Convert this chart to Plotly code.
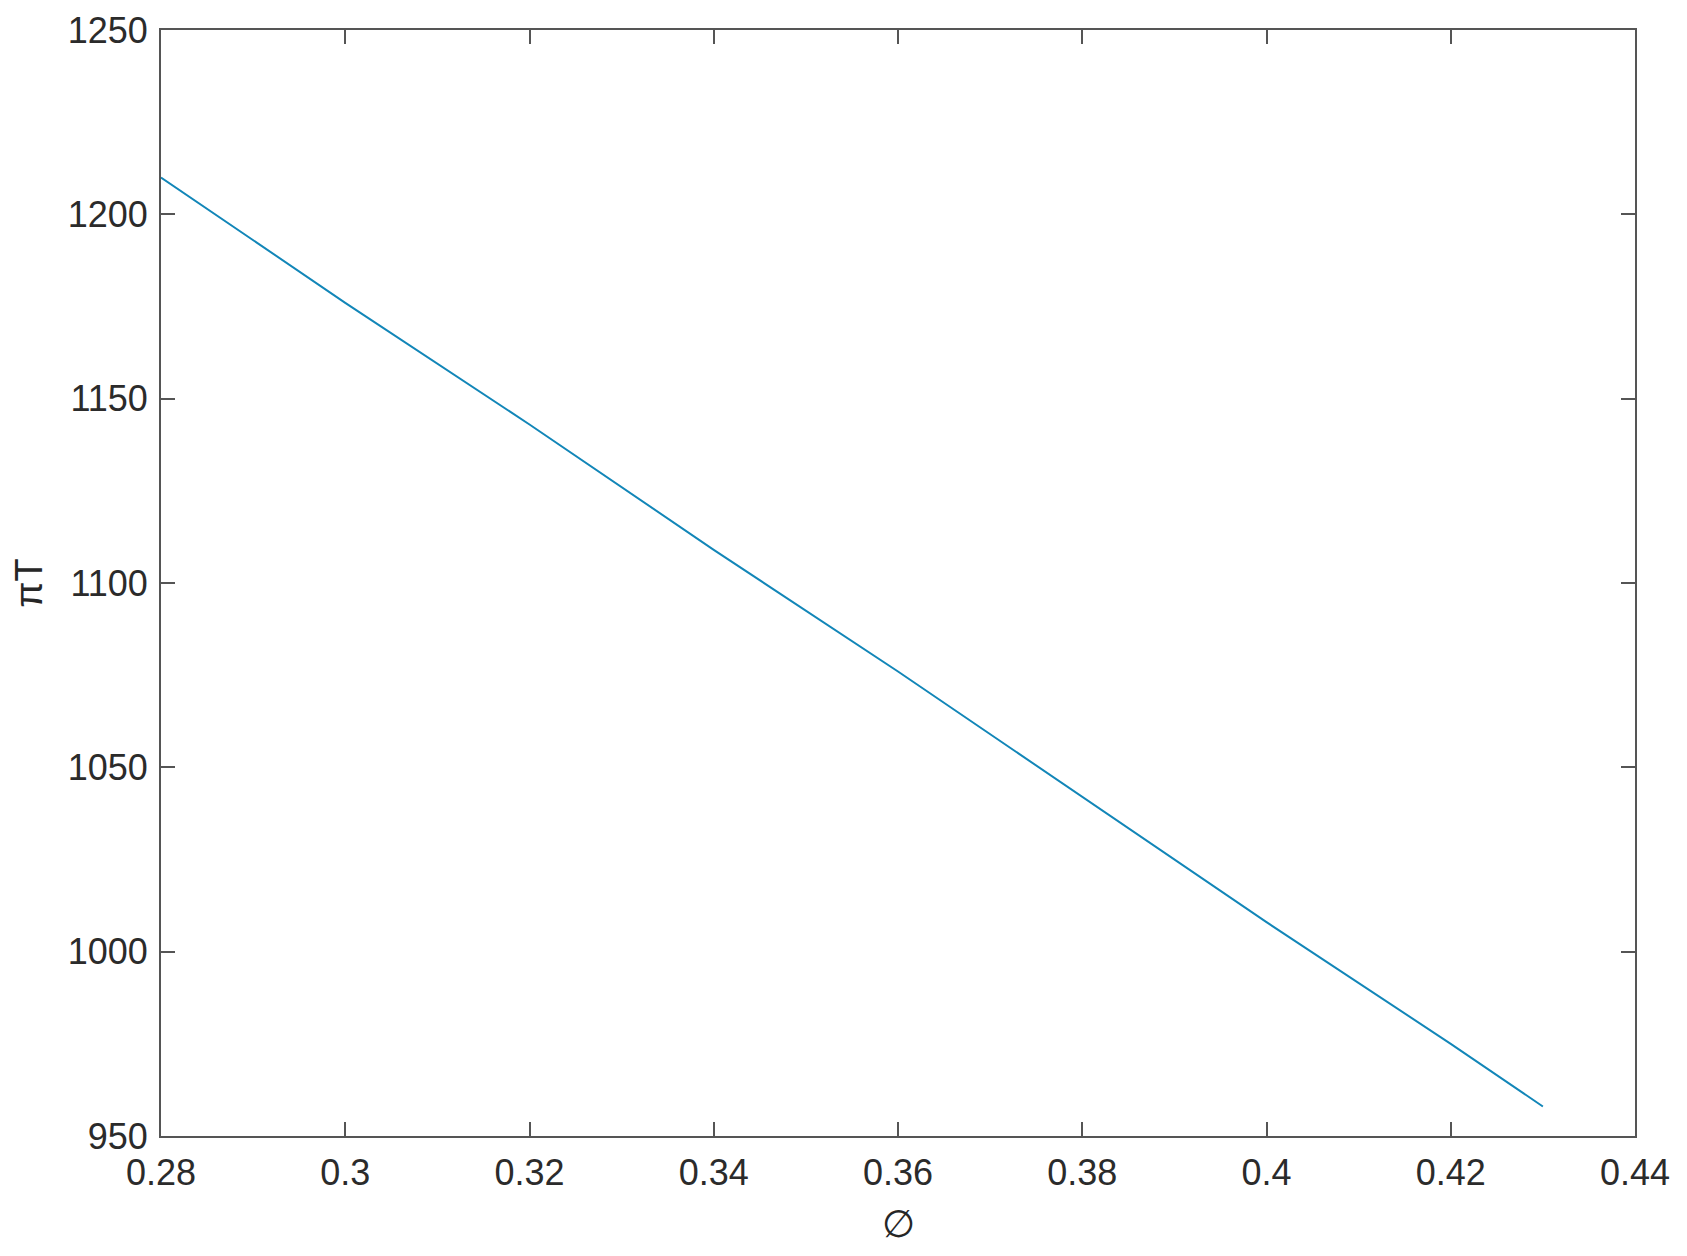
import plotly.graph_objects as go

# values
phi = [0.28, 0.30, 0.32, 0.34, 0.36, 0.38, 0.40, 0.42, 0.43]
pi_t = [1210, 1176, 1143, 1109, 1076, 1042, 1008, 975, 958]

x_ticks = [0.28, 0.30, 0.32, 0.34, 0.36, 0.38, 0.40, 0.42, 0.44]
x_tick_text = ['0.28', '0.3', '0.32', '0.34', '0.36', '0.38', '0.4', '0.42', '0.44']
y_ticks = [950, 1000, 1050, 1100, 1150, 1200, 1250]

fig = go.Figure()
fig.add_trace(go.Scatter(x=phi, y=pi_t, mode='lines',
                         line=dict(color='#1286b8', width=2),
                         showlegend=False))

axis_style = dict(showline=True, linecolor='#555555', linewidth=2, mirror='ticks',
                  ticks='inside', ticklen=14, tickwidth=1.5, tickcolor='#555555',
                  showgrid=False, zeroline=False, automargin=False,
                  tickfont=dict(size=36, color='#2b2b2b'))

# page body adds 8px margin, so margins are shifted to keep the plot box in place
fig.update_layout(
    width=1687, height=1256,
    plot_bgcolor='white', paper_bgcolor='white',
    font=dict(family='Liberation Sans, Arial, sans-serif', color='#262626'),
    margin=dict(l=153, r=60, t=22, b=128),
    xaxis=dict(range=[0.28, 0.44], tickvals=x_ticks, ticktext=x_tick_text,
               title=dict(text='∅', font=dict(size=38), standoff=18),
               ticklabelstandoff=4, **axis_style),
    yaxis=dict(range=[950, 1250], tickvals=y_ticks,
               title=dict(text='πT', font=dict(size=38), standoff=14),
               ticklabelstandoff=4, **axis_style),
)

fig.write_html("out.html")
